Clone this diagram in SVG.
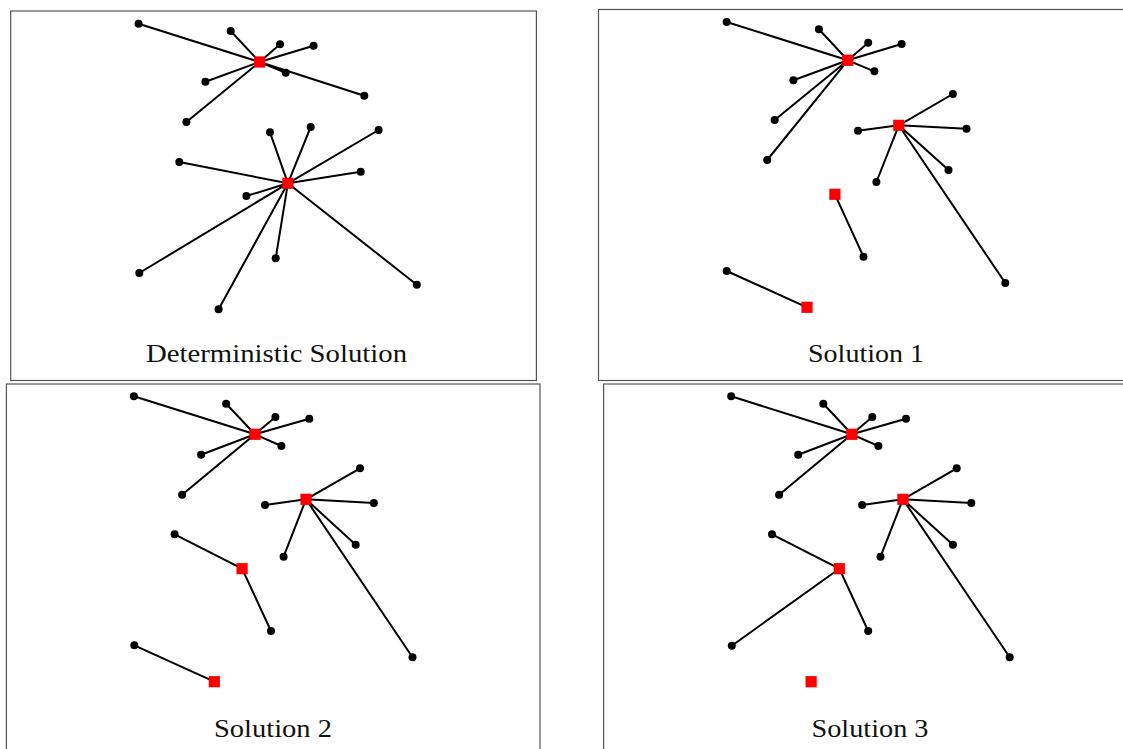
<svg xmlns="http://www.w3.org/2000/svg" width="1123" height="749" viewBox="0 0 1123 749">
<style>
.frame{fill:none;stroke:#555;stroke-width:1.2}
.e{stroke:#000;stroke-width:2;fill:none}
.d{fill:#000}
.h{fill:#f00}
.lbl{font-family:"Liberation Serif","DejaVu Serif",serif;font-size:25.5px;fill:#111;text-anchor:middle}
</style>
<defs>
<rect id="sq" x="-5.6" y="-5.6" width="11.2" height="11.2"/>
<circle id="dot" r="4"/>
</defs>
<rect width="1123" height="749" fill="#fff"/>

<!-- Panel 1 -->
<g id="panel1">
<rect class="frame" x="10.7" y="11" width="525.7" height="369.5"/>
<g id="p1-edges" class="e">
<path d="M259.6 62L138.6 23.7M259.6 62L230.7 31M259.6 62L280 44.3M259.6 62L313.6 45.7M259.6 62L285.7 72.7M259.6 62L364.3 95.7M259.6 62L205.4 81.7M259.6 62L186.4 122"/>
<path d="M287.9 183.3L270 132.3M287.9 183.3L310.7 127M287.9 183.3L378.6 130M287.9 183.3L179.3 162M287.9 183.3L360.7 171.7M287.9 183.3L246.4 196M287.9 183.3L139.3 273M287.9 183.3L218.6 309.3M287.9 183.3L275.7 258.3M287.9 183.3L416.8 284.7"/>
</g>
<g id="p1-dots" class="d">
<use href="#dot" x="138.6" y="23.7"/><use href="#dot" x="230.7" y="31"/><use href="#dot" x="280" y="44.3"/><use href="#dot" x="313.6" y="45.7"/><use href="#dot" x="285.7" y="72.7"/><use href="#dot" x="364.3" y="95.7"/><use href="#dot" x="205.4" y="81.7"/><use href="#dot" x="186.4" y="122"/>
<use href="#dot" x="270" y="132.3"/><use href="#dot" x="310.7" y="127"/><use href="#dot" x="378.6" y="130"/><use href="#dot" x="179.3" y="162"/><use href="#dot" x="360.7" y="171.7"/><use href="#dot" x="246.4" y="196"/><use href="#dot" x="139.3" y="273"/><use href="#dot" x="218.6" y="309.3"/><use href="#dot" x="275.7" y="258.3"/><use href="#dot" x="416.8" y="284.7"/>
</g>
<g id="p1-hubA" class="h"><use href="#sq" x="259.6" y="62"/></g>
<g id="p1-hubB" class="h"><use href="#sq" x="287.9" y="183.3"/></g>
<text class="lbl" x="276.5" y="361.5" textLength="261" lengthAdjust="spacingAndGlyphs">Deterministic Solution</text>
</g>

<!-- Panel 2 -->
<g id="panel2">
<rect class="frame" x="598.5" y="9.5" width="530" height="371"/>
<g id="p2-edges" class="e">
<path d="M847.8 60.3L726.7 22M847.8 60.3L818.9 29.3M847.8 60.3L868.2 42.7M847.8 60.3L901.6 44M847.8 60.3L874.4 71.3M847.8 60.3L793.4 80.3M847.8 60.3L774.7 120M847.8 60.3L767.2 160"/>
<path d="M898.8 125.3L952.9 94M898.8 125.3L858 130.7M898.8 125.3L966.5 128.7M898.8 125.3L948.5 170M898.8 125.3L876.4 182M898.8 125.3L1005.3 283"/>
<path d="M834.9 194.3L863.5 256.7"/>
<path d="M807 307.3L726.7 271"/>
</g>
<g id="p2-dots" class="d">
<use href="#dot" x="726.7" y="22"/><use href="#dot" x="818.9" y="29.3"/><use href="#dot" x="868.2" y="42.7"/><use href="#dot" x="901.6" y="44"/><use href="#dot" x="874.4" y="71.3"/><use href="#dot" x="793.4" y="80.3"/><use href="#dot" x="774.7" y="120"/><use href="#dot" x="767.2" y="160"/>
<use href="#dot" x="952.9" y="94"/><use href="#dot" x="858" y="130.7"/><use href="#dot" x="966.5" y="128.7"/><use href="#dot" x="948.5" y="170"/><use href="#dot" x="876.4" y="182"/><use href="#dot" x="1005.3" y="283"/>
<use href="#dot" x="863.5" y="256.7"/><use href="#dot" x="726.7" y="271"/>
</g>
<g id="p2-hubA" class="h"><use href="#sq" x="847.8" y="60.3"/></g>
<g id="p2-hubB" class="h"><use href="#sq" x="898.8" y="125.3"/></g>
<g id="p2-hubC" class="h"><use href="#sq" x="834.9" y="194.3"/></g>
<g id="p2-hubD" class="h"><use href="#sq" x="807" y="307.3"/></g>
<text class="lbl" x="866" y="361.5" textLength="116" lengthAdjust="spacingAndGlyphs">Solution 1</text>
</g>

<!-- Panel 3 -->
<g id="panel3">
<rect class="frame" x="6.4" y="384" width="533.6" height="370"/>
<g id="p3-edges" class="e">
<path d="M255 434.3L133.9 396.3M255 434.3L226.1 403.7M255 434.3L275.4 417M255 434.3L309.3 418.7M255 434.3L281.4 446M255 434.3L201.1 454.7M255 434.3L182.1 494.7"/>
<path d="M306 499.3L360 468.3M306 499.3L265 505M306 499.3L373.9 503M306 499.3L355.7 544.7M306 499.3L283.6 556.7M306 499.3L412.5 657.3"/>
<path d="M242.1 568.7L174.6 534.3M242.1 568.7L271 631"/>
<path d="M214.3 681.7L134.3 645.3"/>
</g>
<g id="p3-dots" class="d">
<use href="#dot" x="133.9" y="396.3"/><use href="#dot" x="226.1" y="403.7"/><use href="#dot" x="275.4" y="417"/><use href="#dot" x="309.3" y="418.7"/><use href="#dot" x="281.4" y="446"/><use href="#dot" x="201.1" y="454.7"/><use href="#dot" x="182.1" y="494.7"/>
<use href="#dot" x="360" y="468.3"/><use href="#dot" x="265" y="505"/><use href="#dot" x="373.9" y="503"/><use href="#dot" x="355.7" y="544.7"/><use href="#dot" x="283.6" y="556.7"/><use href="#dot" x="412.5" y="657.3"/>
<use href="#dot" x="174.6" y="534.3"/><use href="#dot" x="271" y="631"/><use href="#dot" x="134.3" y="645.3"/>
</g>
<g id="p3-hubA" class="h"><use href="#sq" x="255" y="434.3"/></g>
<g id="p3-hubB" class="h"><use href="#sq" x="306" y="499.3"/></g>
<g id="p3-hubC" class="h"><use href="#sq" x="242.1" y="568.7"/></g>
<g id="p3-hubD" class="h"><use href="#sq" x="214.3" y="681.7"/></g>
<text class="lbl" x="273" y="736.5" textLength="118" lengthAdjust="spacingAndGlyphs">Solution 2</text>
</g>

<!-- Panel 4 -->
<g id="panel4">
<rect class="frame" x="603.6" y="384" width="525" height="370"/>
<g id="p4-edges" class="e">
<path d="M851.9 434.3L731.2 396.3M851.9 434.3L823.3 403.7M851.9 434.3L872.3 417M851.9 434.3L906 418.7M851.9 434.3L878.4 446M851.9 434.3L798.2 454.7M851.9 434.3L779.1 494.7"/>
<path d="M902.9 499.3L956.7 468.3M902.9 499.3L862.1 505M902.9 499.3L971.3 503M902.9 499.3L952.9 544.7M902.9 499.3L880.5 556.7M902.9 499.3L1009.7 657.3"/>
<path d="M839.3 568.7L772 534.3M839.3 568.7L868.2 631M839.3 568.7L731.8 645.7"/>
</g>
<g id="p4-dots" class="d">
<use href="#dot" x="731.2" y="396.3"/><use href="#dot" x="823.3" y="403.7"/><use href="#dot" x="872.3" y="417"/><use href="#dot" x="906" y="418.7"/><use href="#dot" x="878.4" y="446"/><use href="#dot" x="798.2" y="454.7"/><use href="#dot" x="779.1" y="494.7"/>
<use href="#dot" x="956.7" y="468.3"/><use href="#dot" x="862.1" y="505"/><use href="#dot" x="971.3" y="503"/><use href="#dot" x="952.9" y="544.7"/><use href="#dot" x="880.5" y="556.7"/><use href="#dot" x="1009.7" y="657.3"/>
<use href="#dot" x="772" y="534.3"/><use href="#dot" x="868.2" y="631"/><use href="#dot" x="731.8" y="645.7"/>
</g>
<g id="p4-hubA" class="h"><use href="#sq" x="851.9" y="434.3"/></g>
<g id="p4-hubB" class="h"><use href="#sq" x="902.9" y="499.3"/></g>
<g id="p4-hubC" class="h"><use href="#sq" x="839.3" y="568.7"/></g>
<g id="p4-hubD" class="h"><use href="#sq" x="811.1" y="681.7"/></g>
<text class="lbl" x="870" y="736.5" textLength="117" lengthAdjust="spacingAndGlyphs">Solution 3</text>
</g>
</svg>
